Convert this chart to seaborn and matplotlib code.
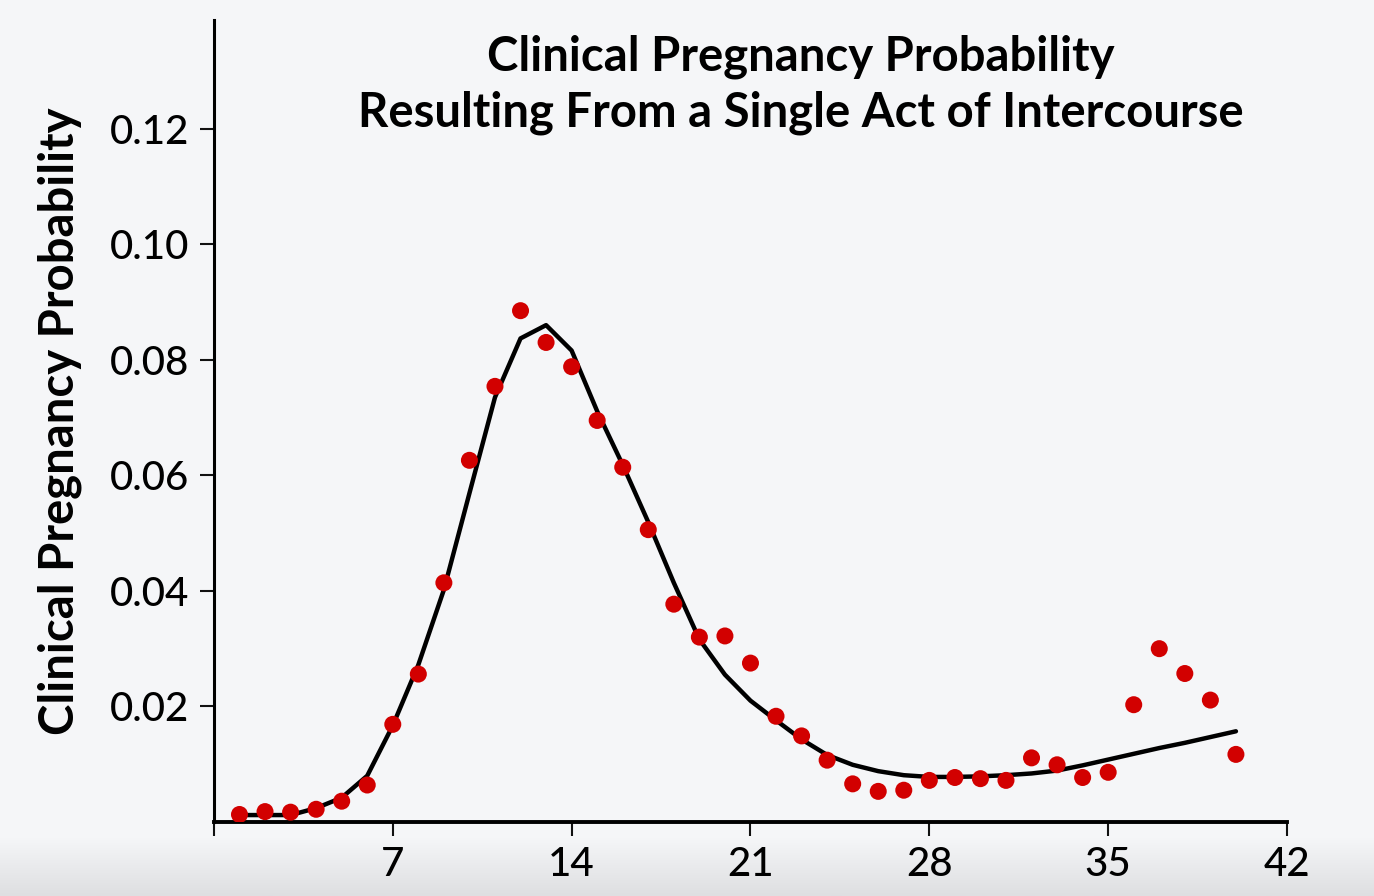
import numpy as np
import pandas as pd
import seaborn as sns
import matplotlib.pyplot as plt

# day of cycle
days = list(range(1, 41))

# observed probability (red dots)
observed = [0.0013, 0.0018, 0.0017, 0.0022, 0.0036, 0.0064, 0.0169, 0.0256, 0.0414, 0.0626,
            0.0754, 0.0885, 0.0830, 0.0788, 0.0695, 0.0614, 0.0506, 0.0377, 0.0320, 0.0322,
            0.0275, 0.0183, 0.0149, 0.0107, 0.0066, 0.0053, 0.0055, 0.0072, 0.0077, 0.0075,
            0.0072, 0.0111, 0.0099, 0.0077, 0.0086, 0.0203, 0.0300, 0.0257, 0.0211, 0.0117]

# fitted curve (black line)
fitted = [0.0012, 0.0012, 0.0012, 0.0024, 0.0042, 0.0080, 0.0167, 0.0272, 0.0402, 0.0569,
          0.0735, 0.0837, 0.0860, 0.0816, 0.0711, 0.0618, 0.0519, 0.0414, 0.0316, 0.0255,
          0.0210, 0.0176, 0.0143, 0.0116, 0.0099, 0.0088, 0.0081, 0.0078, 0.0078, 0.0079,
          0.0081, 0.0084, 0.0089, 0.0098, 0.0108, 0.0118, 0.0128, 0.0137, 0.0147, 0.0157]

x_ticks = [0, 7, 14, 21, 28, 35, 42]
x_labels = ['', '7', '14', '21', '28', '35', '42']
y_ticks = [0.02, 0.04, 0.06, 0.08, 0.10, 0.12]

df = pd.DataFrame({'day': days, 'observed': observed, 'fitted': fitted})

bg = '#f5f6f8'
sns.set_style('ticks')
plt.rcParams['font.family'] = ['Lato', 'DejaVu Sans']

fig = plt.figure(figsize=(13.74, 8.96), dpi=100, facecolor=bg)

# soft grey band at the bottom edge of the screenshot
band = fig.add_axes([0, 0, 1, 0.065], zorder=0)
band.imshow(np.linspace(0, 1, 50).reshape(-1, 1), cmap=sns.blend_palette([bg, '#dedfe1'], as_cmap=True),
            aspect='auto', extent=[0, 1, 0, 1])
band.axis('off')

ax = fig.add_axes([0.1557, 0.0826, 0.781, 0.895], zorder=1)
ax.set_facecolor('none')

sns.lineplot(data=df, x='day', y='fitted', color='black', linewidth=3.2, ax=ax, zorder=2)
sns.scatterplot(data=df, x='day', y='observed', color='#d20000', s=150,
                edgecolor='none', ax=ax, zorder=3)

ax.set_xlim(0, 42)
ax.set_ylim(0, 0.1388)
ax.set_xticks(x_ticks)
ax.set_xticklabels(x_labels)
ax.set_yticks(y_ticks)
ax.set_yticklabels([f'{v:.2f}' for v in y_ticks])

for s in ['top', 'right']:
    ax.spines[s].set_visible(False)
ax.spines['left'].set_linewidth(2.2)
ax.spines['left'].set_color('black')
ax.spines['bottom'].set_linewidth(2.8)
ax.spines['bottom'].set_color('black')
ax.tick_params(axis='both', length=10, width=1.5, labelsize=29, color='#111111',
               labelcolor='black')
ax.tick_params(axis='x', pad=7)
ax.tick_params(axis='y', pad=8)
for lab in ax.get_xticklabels() + ax.get_yticklabels():
    lab.set_fontweight('medium')

ax.set_xlabel('')
ax.set_ylabel('Clinical Pregnancy Probability', fontsize=34, fontweight='bold',
              labelpad=20, color='black')

ax.text(0.547, 0.982, 'Clinical Pregnancy Probability\nResulting From a Single Act of Intercourse',
        transform=ax.transAxes, ha='center', va='top', fontsize=34, fontweight='bold',
        linespacing=1.32, color='black')

fig.savefig('out.png', dpi=100, facecolor=bg)
